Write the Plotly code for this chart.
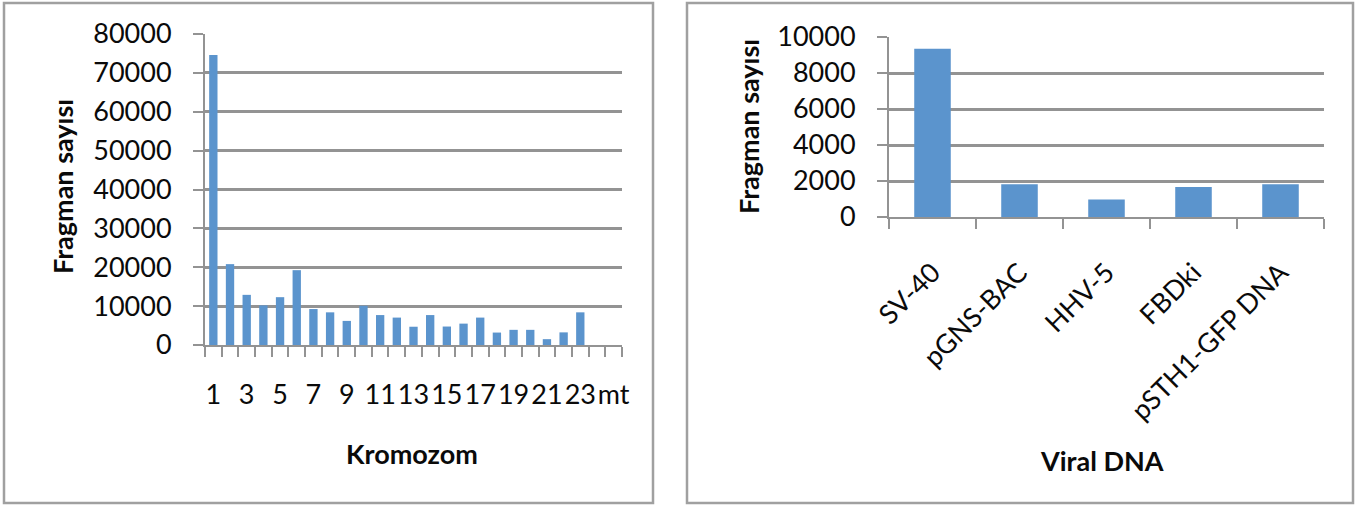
import plotly.graph_objects as go

# ---- data ----
chrom_labels = [str(i) for i in range(1, 25)] + ["mt"]
chrom_values = [74600, 20800, 12900, 10200, 12300, 19250, 9250, 8400, 6200, 10100,
                7700, 7050, 4700, 7700, 4750, 5500, 7050, 3200, 3900, 3900,
                1500, 3250, 8400, None, None]
chrom_ticktext = [lab if (i % 2 == 0) else "" for i, lab in enumerate(chrom_labels)]

viral_labels = ["SV-40", "pGNS-BAC", "HHV-5", "FBDki", "pSTH1-GFP DNA"]
viral_values = [9350, 1820, 970, 1660, 1820]

W, H = 1357, 506
BAR = "#5b94cd"
GRID = "#939393"
FONT = "Lato"

def px(x):
    return x / W

def py(y):
    return 1 - y / H

fig = go.Figure()
fig.add_trace(go.Bar(x=chrom_labels, y=chrom_values, marker_color=BAR,
                     marker_line_width=0, xaxis="x", yaxis="y"))
fig.add_trace(go.Bar(x=viral_labels, y=viral_values, marker_color=BAR,
                     marker_line_width=0, xaxis="x2", yaxis="y2", width=0.42))

axis_common = dict(showline=True, linecolor=GRID, linewidth=2,
                   tickcolor=GRID, tickwidth=2, ticklen=10, ticks="outside",
                   automargin=False,
                   tickfont=dict(family=FONT, size=27, color="#0a0a0a"))

fig.update_layout(
    width=W, height=H, margin=dict(l=0, r=0, t=0, b=0, autoexpand=False),
    paper_bgcolor="white", plot_bgcolor="white", showlegend=False,
    bargap=0.5,
    xaxis=dict(domain=[px(205), px(622)], anchor="y", type="category",
               tickson="boundaries", tickmode="array", tickangle=0,
               tickvals=chrom_labels, ticktext=chrom_ticktext,
               showgrid=False, ticklabelstandoff=25, **axis_common),
    yaxis=dict(domain=[py(345), py(34)], anchor="x", range=[0, 80000],
               tickvals=[0, 10000, 20000, 30000, 40000, 50000, 60000, 70000, 80000],
               tickformat="d",
               showgrid=True, gridcolor=GRID, gridwidth=2.5,
               ticklabelstandoff=16, zeroline=False, **axis_common),
    xaxis2=dict(domain=[px(889), px(1324)], anchor="y2", type="category",
                tickson="boundaries", tickangle=-45, showgrid=False,
                ticklabelstandoff=27, **axis_common),
    yaxis2=dict(domain=[py(217), py(37)], anchor="x2", range=[0, 10000],
                tickvals=[0, 2000, 4000, 6000, 8000, 10000], tickformat="d",
                showgrid=True, gridcolor=GRID, gridwidth=2.5,
                ticklabelstandoff=16, zeroline=False, **axis_common),
)

# panel borders
for x0, x1 in [(4, 653), (687, 1353)]:
    fig.add_shape(type="rect", xref="paper", yref="paper",
                  x0=px(x0), x1=px(x1), y0=py(503), y1=py(3),
                  line=dict(color="#a0a0a0", width=2.5), fillcolor="rgba(0,0,0,0)")

title_font = dict(family=FONT, size=27, color="#0a0a0a")
annotations = [
    dict(text="<b>Fragman sayısı</b>", x=px(62), y=py(187), textangle=-90),
    dict(text="<b>Kromozom</b>", x=px(412), y=py(453), textangle=0),
    dict(text="<b>Fragman sayısı</b>", x=px(748), y=py(127), textangle=-90),
    dict(text="<b>Viral DNA</b>", x=px(1102), y=py(460), textangle=0),
]
for a in annotations:
    fig.add_annotation(xref="paper", yref="paper", showarrow=False,
                       xanchor="center", yanchor="middle", font=title_font, **a)

fig.write_html("out.html", config={"displayModeBar": False},
               post_script="document.body.style.margin='0';document.body.style.overflow='hidden';")
